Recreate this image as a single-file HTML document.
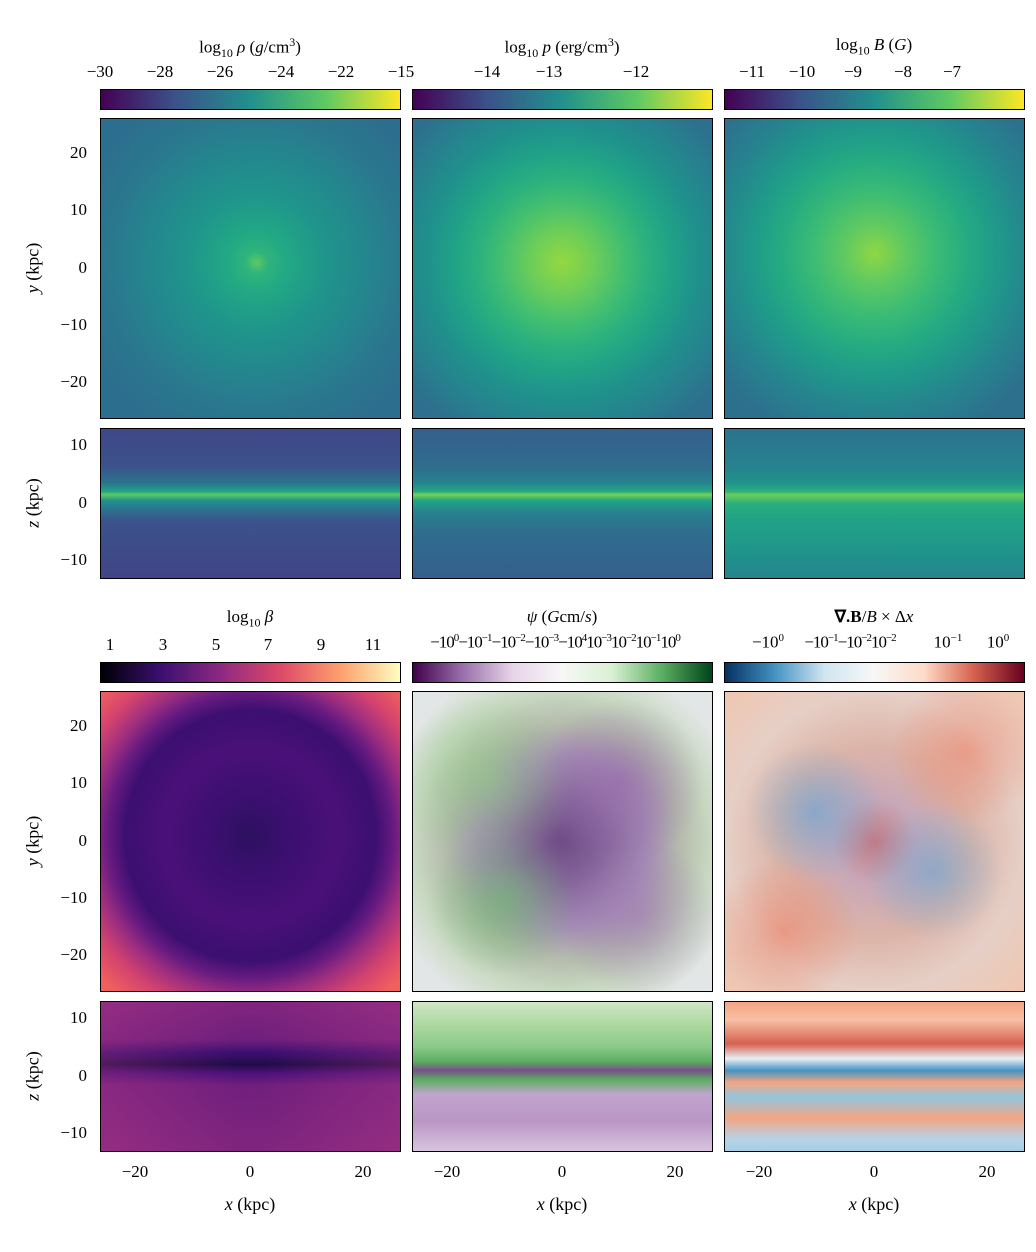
<!DOCTYPE html>
<html><head><meta charset="utf-8"><style>
body{margin:0;background:#fff;width:1036px;height:1252px;position:relative;overflow:hidden;font-family:"Liberation Serif",serif;color:#000}
.p{position:absolute;border:1px solid #000;box-sizing:border-box;overflow:hidden}
.t{position:absolute;font-size:17px;white-space:nowrap;transform:translateX(-50%)}
.r{position:absolute;font-size:17px;white-space:nowrap;text-align:right;width:60px}
.lab{position:absolute;font-size:18px;white-space:nowrap}
</style></head><body>

<div class="p" style="left:100px;top:89px;width:301px;height:21px;background:linear-gradient(90deg,#440154,#3b528b,#21918c,#5ec962,#fde725)"></div>
<div class="p" style="left:412px;top:89px;width:301px;height:21px;background:linear-gradient(90deg,#440154,#3b528b,#21918c,#5ec962,#fde725)"></div>
<div class="p" style="left:724px;top:89px;width:301px;height:21px;background:linear-gradient(90deg,#440154,#3b528b,#21918c,#5ec962,#fde725)"></div>
<div class="p" style="left:100px;top:662px;width:301px;height:21px;background:linear-gradient(90deg,#000004,#3b0f70,#8c2981,#de4968,#fe9f6d,#fcfdbf)"></div>
<div class="p" style="left:412px;top:662px;width:301px;height:21px;background:linear-gradient(90deg,#40004b,#9970ab,#e7d4e8,#f7f7f7,#d9f0d3,#5aae61,#00441b)"></div>
<div class="p" style="left:724px;top:662px;width:301px;height:21px;background:linear-gradient(90deg,#053061,#4393c3,#d1e5f0,#f7f7f7,#fddbc7,#d6604d,#67001f)"></div>

<div class="t" style="left:250px;top:35px">log<sub style="font-size:12px">10</sub> <i>ρ</i> (<i>g</i>/cm<sup style="font-size:12px">3</sup>)</div>
<div class="t" style="left:562px;top:35px">log<sub style="font-size:12px">10</sub> <i>p</i> (erg/cm<sup style="font-size:12px">3</sup>)</div>
<div class="t" style="left:874px;top:35px">log<sub style="font-size:12px">10</sub> <i>B</i> (<i>G</i>)</div>
<div class="t" style="left:250px;top:607px">log<sub style="font-size:12px">10</sub> <i>β</i></div>
<div class="t" style="left:562px;top:607px"><i>ψ</i> (<i>G</i>cm/<i>s</i>)</div>
<div class="t" style="left:874px;top:607px"><b>∇.B</b>/<i>B</i> × Δ<i>x</i></div>

<div class="t" style="left:100px;top:62px">−30</div>
<div class="t" style="left:160px;top:62px">−28</div>
<div class="t" style="left:220px;top:62px">−26</div>
<div class="t" style="left:281px;top:62px">−24</div>
<div class="t" style="left:341px;top:62px">−22</div>
<div class="t" style="left:401px;top:62px">−15</div>
<div class="t" style="left:487px;top:62px">−14</div>
<div class="t" style="left:549px;top:62px">−13</div>
<div class="t" style="left:636px;top:62px">−12</div>
<div class="t" style="left:752px;top:62px">−11</div>
<div class="t" style="left:802px;top:62px">−10</div>
<div class="t" style="left:853px;top:62px">−9</div>
<div class="t" style="left:903px;top:62px">−8</div>
<div class="t" style="left:952px;top:62px">−7</div>
<div class="t" style="left:110px;top:635px">1</div>
<div class="t" style="left:163px;top:635px">3</div>
<div class="t" style="left:216px;top:635px">5</div>
<div class="t" style="left:268px;top:635px">7</div>
<div class="t" style="left:321px;top:635px">9</div>
<div class="t" style="left:373px;top:635px">11</div>
<div class="t" style="left:555px;top:632px;font-size:17px;letter-spacing:-1px">−10<sup style="font-size:11px">0</sup>−10<sup style="font-size:11px">−1</sup>−10<sup style="font-size:11px">−2</sup>−10<sup style="font-size:11px">−3</sup>−10<sup style="font-size:11px">4</sup>10<sup style="font-size:11px">−3</sup>10<sup style="font-size:11px">−2</sup>10<sup style="font-size:11px">−1</sup>10<sup style="font-size:11px">0</sup></div>
<div class="t" style="left:768px;top:632px;font-size:17px">−10<sup style="font-size:11px">0</sup></div>
<div class="t" style="left:850px;top:632px;font-size:17px;letter-spacing:-1px">−10<sup style="font-size:11px">−1</sup>−10<sup style="font-size:11px">−2</sup>10<sup style="font-size:11px">−2</sup></div>
<div class="t" style="left:948px;top:632px;font-size:17px">10<sup style="font-size:11px">−1</sup></div>
<div class="t" style="left:998px;top:632px;font-size:17px">10<sup style="font-size:11px">0</sup></div>

<div class="p" style="left:100px;top:118px;width:301px;height:301px;background:radial-gradient(circle at 52% 48%,#5ec962 0,#2fb47c 5%,#22a884 14%,#1f968b 30%,#23888e 48%,#2a788e 66%,#2c6e8e 85%)"></div>
<div class="p" style="left:412px;top:118px;width:301px;height:301px;background:radial-gradient(circle at 50% 48%,#95d840 0,#6ece58 14%,#44bf70 28%,#2ab07f 40%,#20a386 50%,#1f928c 62%,#26828e 76%,#2e6e8e 92%)"></div>
<div class="p" style="left:724px;top:118px;width:301px;height:301px;background:radial-gradient(circle at 50% 45%,#8fd744 0,#5ec962 14%,#3bbb75 28%,#25ab82 42%,#1f9a8a 55%,#25858e 70%,#2d708e 88%)"></div>
<div class="p" style="left:100px;top:428px;width:301px;height:151px;background:linear-gradient(180deg,#3f4788 0,#3b528b 25%,#2c728e 36%,#21a585 42%,#5ec962 44%,#20928c 48%,#2c728e 54%,#3b528b 62%,#414487 100%)"></div>
<div class="p" style="left:412px;top:428px;width:301px;height:151px;background:linear-gradient(180deg,#355f8d 0,#2f6c8e 25%,#26828e 36%,#22a884 42%,#7ad151 44%,#21a585 48%,#26828e 56%,#2f6c8e 70%,#355f8d 100%)"></div>
<div class="p" style="left:724px;top:428px;width:301px;height:151px;background:linear-gradient(180deg,#2c728e 0,#26828e 25%,#20928c 36%,#2ab07f 42%,#6ece58 44%,#29af7f 50%,#22a385 60%,#1f968b 80%,#25858e 100%)"></div>

<div class="p" style="left:100px;top:691px;width:301px;height:301px;background:radial-gradient(circle at 50% 48%,#2d1160 0,#3b0f70 18%,#4a1079 40%,#3b0f70 58%,#651a80 66%,#9c2e7f 74%,#d3436e 84%,#f1605d 96%)"></div>
<div class="p" style="left:412px;top:691px;width:301px;height:301px;background:radial-gradient(circle at 30% 70%,rgba(110,185,110,.7),rgba(110,185,110,0) 25%),radial-gradient(circle at 70% 30%,rgba(150,105,170,.65),rgba(150,105,170,0) 28%),radial-gradient(circle at 75% 75%,rgba(160,120,180,.65),rgba(160,120,180,0) 25%),radial-gradient(circle at 25% 30%,rgba(140,200,130,.65),rgba(140,200,130,0) 28%),radial-gradient(circle at 50% 50%,#6f4c85 0,#85649b 20%,#a48cb4 40%,#b4baac 55%,#c7d8c0 70%,#e3e6e6 88%)"></div>
<div class="p" style="left:724px;top:691px;width:301px;height:301px;background:radial-gradient(circle at 30% 40%,rgba(110,165,210,.7),rgba(110,165,210,0) 25%),radial-gradient(circle at 70% 60%,rgba(110,165,210,.65),rgba(110,165,210,0) 25%),radial-gradient(circle at 20% 80%,rgba(235,135,110,.7),rgba(235,135,110,0) 22%),radial-gradient(circle at 80% 20%,rgba(235,135,110,.65),rgba(235,135,110,0) 22%),radial-gradient(circle at 50% 50%,#c07a85 0,#c8a8b8 20%,#dcb4a8 45%,#e6cfc6 70%,#f0c6b0 100%)"></div>
<div class="p" style="left:100px;top:1001px;width:301px;height:151px;background:linear-gradient(90deg,rgba(160,50,130,.4),rgba(60,15,110,.15) 45%,rgba(60,15,110,.15) 55%,rgba(160,50,130,.4)),linear-gradient(180deg,#8c2981 0,#7a2280 25%,#3b0f70 34%,#1b0c41 42%,#51127c 48%,#7a2280 56%,#8c2981 100%)"></div>
<div class="p" style="left:412px;top:1001px;width:301px;height:151px;background:linear-gradient(180deg,#cfe6c6 0,#a7d59a 18%,#8bc98a 30%,#5aae61 40%,#7a4e8a 46%,#5aae61 52%,#c2a5cf 62%,#b996c4 80%,#d8c4de 100%)"></div>
<div class="p" style="left:724px;top:1001px;width:301px;height:151px;background:linear-gradient(180deg,#f4a582 0,#f7c0a5 12%,#d6604d 28%,#e7eff5 38%,#4393c3 46%,#f4a582 54%,#92c5de 64%,#f4a582 78%,#b5d4e8 92%,#a9cee4 100%)"></div>

<div class="r" style="left:27px;top:143px">20</div>
<div class="r" style="left:27px;top:200px">10</div>
<div class="r" style="left:27px;top:258px">0</div>
<div class="r" style="left:27px;top:315px">−10</div>
<div class="r" style="left:27px;top:372px">−20</div>
<div class="r" style="left:27px;top:435px">10</div>
<div class="r" style="left:27px;top:493px">0</div>
<div class="r" style="left:27px;top:550px">−10</div>
<div class="r" style="left:27px;top:716px">20</div>
<div class="r" style="left:27px;top:773px">10</div>
<div class="r" style="left:27px;top:831px">0</div>
<div class="r" style="left:27px;top:888px">−10</div>
<div class="r" style="left:27px;top:945px">−20</div>
<div class="r" style="left:27px;top:1008px">10</div>
<div class="r" style="left:27px;top:1066px">0</div>
<div class="r" style="left:27px;top:1123px">−10</div>

<div class="lab" style="left:8px;top:268px;transform:translate(0,-50%) rotate(-90deg)"><i>y</i> (kpc)</div>
<div class="lab" style="left:8px;top:503px;transform:translate(0,-50%) rotate(-90deg)"><i>z</i> (kpc)</div>
<div class="lab" style="left:8px;top:841px;transform:translate(0,-50%) rotate(-90deg)"><i>y</i> (kpc)</div>
<div class="lab" style="left:8px;top:1076px;transform:translate(0,-50%) rotate(-90deg)"><i>z</i> (kpc)</div>

<div class="t" style="left:135px;top:1162px">−20</div>
<div class="t" style="left:250px;top:1162px">0</div>
<div class="t" style="left:363px;top:1162px">20</div>
<div class="t" style="left:447px;top:1162px">−20</div>
<div class="t" style="left:562px;top:1162px">0</div>
<div class="t" style="left:675px;top:1162px">20</div>
<div class="t" style="left:759px;top:1162px">−20</div>
<div class="t" style="left:874px;top:1162px">0</div>
<div class="t" style="left:987px;top:1162px">20</div>
<div class="t" style="left:250px;top:1194px;font-size:18px"><i>x</i> (kpc)</div>
<div class="t" style="left:562px;top:1194px;font-size:18px"><i>x</i> (kpc)</div>
<div class="t" style="left:874px;top:1194px;font-size:18px"><i>x</i> (kpc)</div>
</body></html>
